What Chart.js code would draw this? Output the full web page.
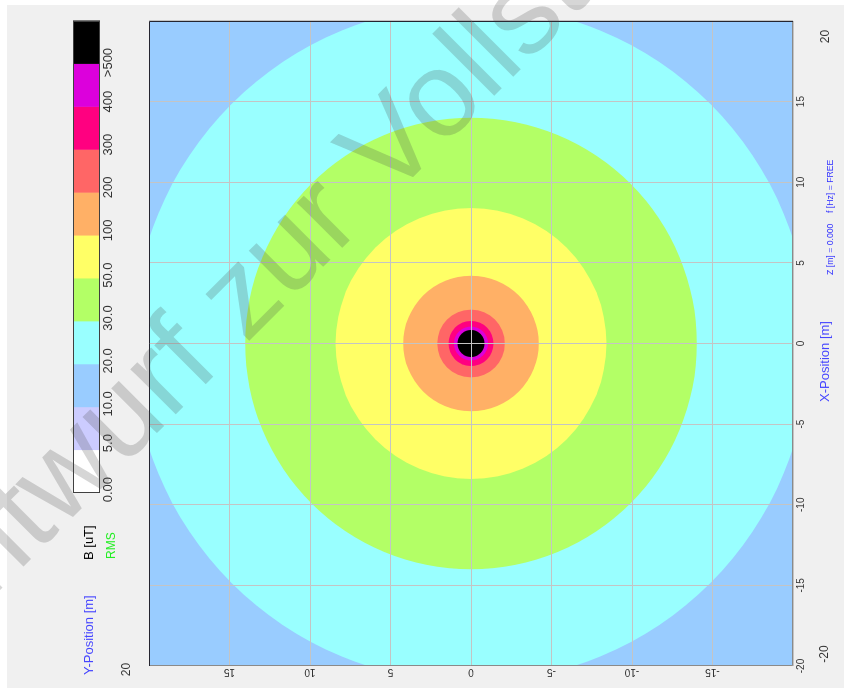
<!DOCTYPE html>
<html>
<head>
<meta charset="utf-8">
<script src="https://cdn.jsdelivr.net/npm/chart.js@4.4.1/dist/chart.umd.min.js"></script>
<style>
  html, body { margin: 0; padding: 0; background: #f0f0f0; overflow: hidden; }
  #wrap { position: absolute; left: 78px; top: -78px; width: 688px; height: 844px; transform: rotate(-90deg); }
</style>
</head>
<body>
<div id="wrap"><canvas id="field" width="688" height="844"></canvas></div>
<script>
// B [uT] RMS levels and their colours (legend order, low -> high)
const levelLabels = ['0.00', '5.0', '10.0', '20.0', '30.0', '50.0', '100', '200', '300', '400', '>500'];
const levelColors = ['#ffffff', '#ccccff', '#99ccff', '#99ffff', '#b3ff66', '#ffff66', '#ffb066', '#ff6666', '#ff0080', '#dc00dc', '#000000'];

// outer radius [m] of each band around the source, from the 10.0 band up
const bandRadius = [29, 21.0, 14.0, 8.4, 4.2, 2.1, 1.4, 1.05, 0.84];
const bandColors = levelColors.slice(2);
const source = [0, 0];

const axisTicks = [-20, -15, -10, -5, 0, 5, 10, 15, 20];

const FONT = "'Liberation Sans', Arial, sans-serif";

// pixel radius of a band, taken from the x scale
function bandPx(ctx) {
  const s = ctx.chart.scales.x;
  if (!ctx.raw) return 0;
  return Math.abs(s.getPixelForValue(ctx.raw.rad) - s.getPixelForValue(0));
}

const frame = {
  id: 'frame',
  beforeDraw(chart) {
    const c = chart.ctx;
    c.save();
    c.fillStyle = '#f0f0f0';
    c.fillRect(0, 0, chart.width, chart.height);
    c.fillStyle = '#ffffff';
    c.fillRect(0, 0, chart.width, 7);
    c.fillRect(chart.width - 5, 0, 5, chart.height);
    c.restore();
  },
  afterDraw(chart) {
    const c = chart.ctx;
    const a = chart.chartArea;
    c.save();

    // plot frame
    c.lineWidth = 1;
    c.strokeStyle = '#8a8a8a';
    c.beginPath();
    c.moveTo(a.left + 0.5, a.top);
    c.lineTo(a.left + 0.5, a.bottom - 0.5);
    c.lineTo(a.right, a.bottom - 0.5);
    c.stroke();
    c.strokeStyle = '#252530';
    c.beginPath();
    c.moveTo(a.left, a.top + 0.5);
    c.lineTo(a.right - 0.5, a.top + 0.5);
    c.lineTo(a.right - 0.5, a.bottom);
    c.stroke();

    // colour bar
    const cbL = 195, cbR = 667, cbT = 73, cbB = 100;
    const w = (cbR - cbL) / levelColors.length;
    levelColors.forEach((col, i) => {
      c.fillStyle = col;
      c.fillRect(cbL + i * w, cbT, w + 0.5, cbB - cbT);
    });
    c.strokeStyle = '#404040';
    c.strokeRect(cbL + 0.5, cbT + 0.5, cbR - cbL - 1, cbB - cbT - 1);

    c.font = '13px ' + FONT;
    c.fillStyle = '#333';
    c.textAlign = 'right';
    c.textBaseline = 'middle';
    levelLabels.forEach((t, i) => c.fillText(t, cbL + i * w + 16, 108));

    // titles and corner labels
    c.textAlign = 'left';
    c.fillStyle = '#000';
    c.fillText('B [uT]', 128, 89);
    c.font = '12px ' + FONT;
    c.fillStyle = '#22ee22';
    c.fillText('RMS', 129, 112);
    c.font = '13px ' + FONT;
    c.fillStyle = '#4646ff';
    c.fillText('Y-Position [m]', 13, 89.5);

    c.textAlign = 'center';
    c.fillText('X-Position [m]', 326.5, 825.5);
    c.font = '12px ' + FONT;
    c.fillStyle = '#333';
    c.fillText('20', 18.5, 127);
    c.fillText('-20', 34, 824.5);
    c.fillText('20', 651.5, 826);

    c.font = '8.7px ' + FONT;
    c.fillStyle = '#3030ff';
    c.textAlign = 'left';
    c.fillText('Z [m] = 0.000', 413, 831);
    c.fillText('f [Hz] = FREE', 475, 831);

    // watermark, laid out in screen orientation
    c.setTransform(0, 1, -1, 0, chart.width, 0);
    c.translate(-68, 658);
    c.rotate(-Math.PI / 4);
    c.font = '121px ' + FONT;
    c.fillStyle = 'rgba(70,70,70,0.22)';
    c.textAlign = 'left';
    c.textBaseline = 'alphabetic';
    c.fillText('Entwurf zur Vollständigkeit', 0, 0);
    c.restore();
  }
};

const field = document.getElementById('field');

new Chart(field, {
  type: 'scatter',
  data: {
    datasets: [{
      data: bandRadius.map(r => ({ x: source[0], y: source[1], rad: r })),
      pointBackgroundColor: bandColors,
      pointBorderWidth: 0,
      pointRadius: bandPx,
      pointHoverRadius: bandPx,
      showLine: false,
      clip: 0
    }]
  },
  options: {
    responsive: false,
    animation: false,
    events: [],
    layout: { padding: { top: 149, right: 21, bottom: 0, left: 0 } },
    plugins: { legend: { display: false }, tooltip: { enabled: false } },
    scales: {
      x: {
        type: 'linear',
        position: 'bottom',
        min: -20,
        max: 20,
        afterBuildTicks: s => { s.ticks = axisTicks.map(v => ({ value: v })); },
        afterFit: s => { s.height = 51; },
        ticks: {
          autoSkip: false,
          maxRotation: 0,
          padding: 2,
          color: '#333',
          font: { size: 10, family: FONT },
          callback: v => (v === 20 ? '' : v)
        },
        grid: { color: '#c4c4c4', drawTicks: false, z: 1 },
        border: { display: false }
      },
      y: {
        type: 'linear',
        position: 'left',
        min: -20,
        max: 20,
        afterBuildTicks: s => { s.ticks = axisTicks.map(v => ({ value: v })); },
        afterFit: s => { s.width = 22; },
        ticks: {
          autoSkip: false,
          minRotation: 90,
          maxRotation: 90,
          crossAlign: 'center',
          padding: -1,
          color: '#333',
          font: { size: 10, family: FONT },
          callback: v => (Math.abs(v) === 20 ? '' : v)
        },
        grid: { color: '#c4c4c4', drawTicks: false, z: 1 },
        border: { display: false }
      }
    }
  },
  plugins: [frame]
});
</script>
</body>
</html>
